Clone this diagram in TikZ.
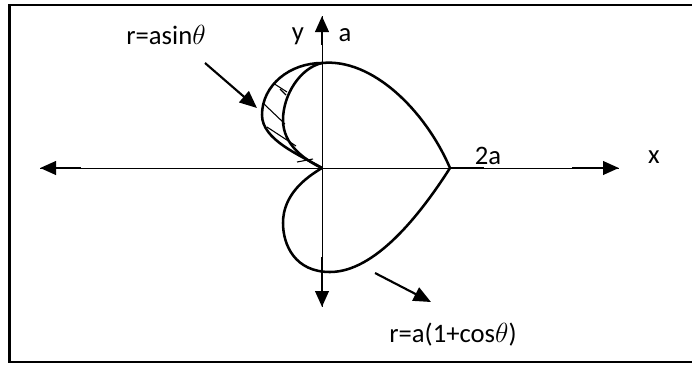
\documentclass[tikz,border=0pt]{standalone}
\usepackage{fontspec}
\setmainfont{Carlito}
\usetikzlibrary{arrows.meta,positioning}

\tikzset{
  axisline/.style={line width=0.7pt},
  stub/.style={line width=2.2pt,-{Triangle[length=12pt,width=10pt]}},
  curveline/.style={line width=1.9pt,line join=round},
  hatchline/.style={line width=0.8pt},
  pointer/.style={line width=1.6pt,-{Triangle[length=13pt,width=11pt]}},
  lbl/.style={inner sep=0pt,font=\fontsize{20}{24}\selectfont},
}

\begin{document}
\begin{tikzpicture}[x=0.75pt,y=-0.75pt]
    \useasboundingbox (0,0) rectangle (692,365);

    % Frame
    \draw[line width=1.9pt] (700,5) -- (9.5,5) -- (9.5,362) -- (700,362);

    % Axes
    \coordinate (O) at (322,168);
    \coordinate (xl) at (40,168);
    \coordinate (xr) at (619,168);
    \coordinate (yt) at (322,16);
    \coordinate (yb) at (322,307);
    \draw[axisline] (xl) -- (xr);
    \draw[axisline] (yt) -- (yb);
    \draw[stub] (81,168) -- (xl);
    \draw[stub] (572,168) -- (xr);
    \draw[stub] (322,45) -- (yt);
    \draw[stub] (322,257) -- (yb);
    \draw[line width=1.3pt] (450,168) -- (484,168);

    % Cardioid
    \draw[curveline] (O) .. controls (300,155) and (262,140) .. (262,115)
        .. controls (262,85) and (290,63) .. (322,63)
        .. controls (372,58) and (425,110) .. (450,168);
    \draw[curveline] (450,168) .. controls (420,215) and (375,272) .. (330,272)
        .. controls (295,272) and (283,245) .. (283,223)
        .. controls (283,195) and (305,178) .. (O);

    % Circle r = a sin
    \draw[curveline] (322,63) .. controls (300,68) and (283,95) .. (283,120)
        .. controls (283,145) and (305,160) .. (O);

    % Hatching
    \draw[hatchline] (280,89) -- (286,95);
    \draw[hatchline] (273,83) -- (287,92);
    \draw[hatchline] (264,104) -- (285,124);
    \draw[hatchline] (267,127) -- (296,146);
    \draw[hatchline] (297,162) -- (313,159);

    % Labels
    \node[lbl] (ylab) at (298,36) {y};
    \node[lbl] (alab) at (345,35) {a};
    \node[lbl] (twoa) at (488,156) {2a};
    \node[lbl] (xlab) at (654,157) {x};
    \node[lbl] (sinlab) at (166,35) {r=asin$\theta$};
    \node[lbl] (coslab) at (453,335) {r=a(1+cos$\theta$)};

    % Pointer arrows
    \coordinate (p1s) at (205,63);
    \coordinate (p1e) at (257,108);
    \coordinate (p2s) at (375,273);
    \coordinate (p2e) at (431,302);
    \draw[pointer] (p1s) -- (p1e);
    \draw[pointer] (p2s) -- (p2e);
\end{tikzpicture}
\end{document}
